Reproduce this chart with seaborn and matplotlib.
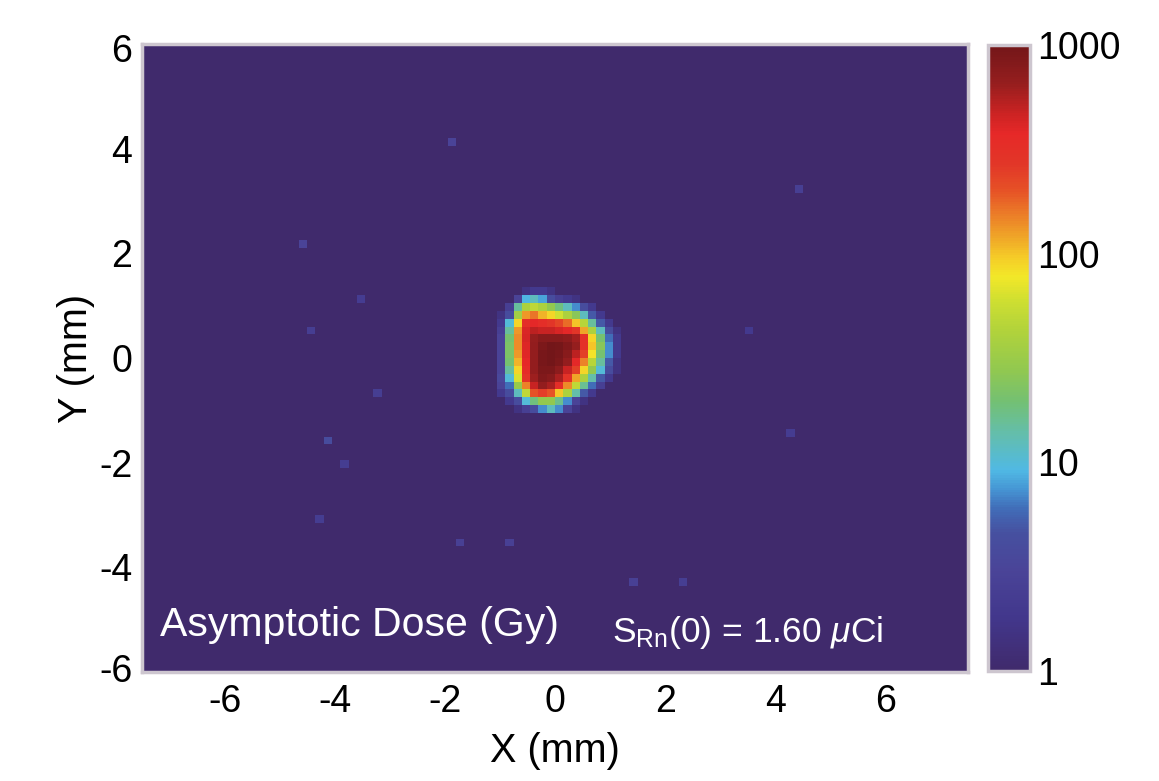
import numpy as np
import pandas as pd
import matplotlib.pyplot as plt
import seaborn as sns
from matplotlib.colors import LinearSegmentedColormap, LogNorm

# dose map grid (pixel centres, mm); the map is 15 mm x 12 mm at 0.15 mm pixels
x_mm = np.round(np.arange(-7.425, 7.5, 0.15), 3)
y_mm = np.round(np.arange(5.925, -6.0, -0.15), 3)

# hot spot around the seed (Gy)
hot_x = [-0.975, -0.825, -0.675, -0.525, -0.375, -0.225, -0.075, 0.075,
         0.225, 0.375, 0.525, 0.675, 0.825, 0.975, 1.125]
hot_y = [1.275, 1.125, 0.975, 0.825, 0.675, 0.525, 0.375, 0.225,
         0.075, -0.075, -0.225, -0.375, -0.525, -0.675, -0.825, -0.975]
hot_dose = [
    [1, 1, 1, 1.5, 2, 2, 1.5, 1, 1, 1, 1, 1, 1, 1, 1],
    [1, 1, 3, 9, 12, 8, 4, 2.5, 2, 1.5, 1, 1, 1, 1, 1],
    [1, 2.5, 15, 40, 50, 40, 28, 18, 12, 7, 4, 2, 1, 1, 1],
    [1.5, 4, 35, 130, 160, 110, 90, 60, 40, 25, 12, 5, 2, 1, 1],
    [2, 10, 90, 330, 380, 330, 280, 230, 170, 100, 45, 15, 5, 2, 1],
    [2.5, 15, 130, 420, 520, 480, 470, 430, 380, 280, 120, 40, 12, 4, 1.5],
    [3, 20, 140, 430, 650, 780, 780, 780, 720, 600, 320, 90, 20, 6, 2],
    [3, 22, 140, 400, 680, 880, 1000, 950, 830, 650, 320, 100, 25, 7, 2],
    [3, 22, 130, 390, 680, 930, 1000, 930, 780, 520, 240, 80, 20, 7, 2],
    [3, 20, 110, 370, 680, 930, 980, 880, 680, 380, 150, 45, 15, 5, 1.5],
    [3, 15, 90, 340, 680, 880, 880, 730, 480, 240, 90, 28, 10, 4, 1.5],
    [3.5, 10, 65, 290, 630, 830, 780, 580, 290, 120, 40, 14, 5, 2, 1],
    [3, 6, 30, 150, 480, 680, 580, 330, 140, 50, 16, 6, 2.5, 1, 1],
    [2, 4, 12, 50, 200, 250, 200, 100, 40, 14, 5, 2, 1, 1, 1],
    [1, 2, 4, 10, 18, 28, 28, 17, 7, 3, 1.5, 1, 1, 1, 1],
    [1, 1, 1.5, 2.5, 4, 7, 12, 7, 3, 1.5, 1, 1, 1, 1, 1],
]

# faint speckles in the background
speck_x = [-1.88, -4.5, 4.41, -4.08, -1.72, -0.81, 1.41, 2.27, -4.39, -3.5, -3.3, -4.3, -3.77, 4.24, 3.5]
speck_y = [4.17, 2.2, 3.29, -1.57, -3.59, -3.59, -4.28, -4.32, 0.5, 1.1, -0.73, -3.1, -2.06, -1.5, 0.48]
speck_dose = [3, 3, 2.5, 4, 2.6, 2.6, 2.6, 2.4, 2.4, 2.2, 2.4, 2.3, 2.3, 2.2, 2]

x_ticks = [-6, -4, -2, 0, 2, 4, 6]
y_ticks = [-6, -4, -2, 0, 2, 4, 6]
cbar_ticks = [1, 10, 100, 1000]

dose = pd.DataFrame(1.0, index=y_mm, columns=x_mm)
for r, hy in enumerate(hot_y):
    for c, hx in enumerate(hot_x):
        dose.iloc[np.abs(y_mm - hy).argmin(), np.abs(x_mm - hx).argmin()] = hot_dose[r][c]
for sx, sy, sd in zip(speck_x, speck_y, speck_dose):
    dose.iloc[np.abs(y_mm - sy).argmin(), np.abs(x_mm - sx).argmin()] = sd

stops = [
    (0.0, (64, 42, 108)), (0.085, (66, 55, 140)), (0.16, (74, 68, 152)),
    (0.22, (70, 80, 160)), (0.26, (65, 110, 185)), (0.29, (70, 150, 212)),
    (0.32, (80, 185, 228)), (0.38, (100, 190, 170)), (0.43, (115, 192, 115)),
    (0.48, (145, 200, 80)), (0.54, (175, 210, 60)), (0.59, (205, 222, 50)),
    (0.63, (242, 232, 40)), (0.66, (245, 205, 40)), (0.69, (240, 170, 40)),
    (0.73, (235, 125, 40)), (0.77, (230, 80, 38)), (0.81, (226, 55, 40)),
    (0.86, (230, 40, 40)), (0.89, (205, 35, 35)), (0.94, (150, 30, 30)),
    (1.0, (115, 22, 25)),
]
dose_cmap = LinearSegmentedColormap.from_list(
    "dose", [(p, tuple(v / 255 for v in rgb)) for p, rgb in stops])

sns.set_theme(style="white")
plt.rcParams["font.family"] = ["Liberation Sans", "DejaVu Sans"]
plt.rcParams["mathtext.fontset"] = "custom"
plt.rcParams["mathtext.rm"] = "Liberation Sans"
plt.rcParams["mathtext.it"] = "Liberation Sans:italic"
plt.rcParams["text.color"] = "black"
plt.rcParams["axes.labelcolor"] = "black"

W, H = 1159, 781
fig = plt.figure(figsize=(W / 100, H / 100), dpi=100)
ax = fig.add_axes([142 / W, 109 / H, 826 / W, 628 / H])
cax = fig.add_axes([988 / W, 110 / H, 42 / W, 626 / H])

sns.heatmap(dose, ax=ax, cbar_ax=cax, cmap=dose_cmap, norm=LogNorm(vmin=1, vmax=1000),
            xticklabels=False, yticklabels=False, rasterized=True)

col_pos = np.arange(len(x_mm)) + 0.5
row_pos = np.arange(len(y_mm)) + 0.5
ax.set_xticks(np.interp(x_ticks, x_mm, col_pos))
ax.set_xticklabels([str(t) for t in x_ticks])
ax.set_yticks(np.interp(y_ticks, y_mm[::-1], row_pos[::-1]))
ax.set_yticklabels([str(t) for t in y_ticks], rotation=0)
ax.tick_params(axis="both", length=0, labelsize=27, colors="black")
ax.tick_params(axis="x", pad=9)
ax.tick_params(axis="y", pad=7)
ax.set_xlabel("X (mm)", fontsize=28.5, labelpad=8, color="black")
ax.set_ylabel("Y (mm)", fontsize=28.5, labelpad=3, color="black")
for sp in ax.spines.values():
    sp.set_visible(True)
    sp.set_color("#cdc6cf")
    sp.set_linewidth(2.5)

ax.text(0.022, 0.057, "Asymptotic Dose (Gy)", transform=ax.transAxes,
        color="white", fontsize=29.5, va="baseline", ha="left")
ax.text(0.569, 0.047, r"$\mathrm{S}_{\mathrm{Rn}}$(0) = 1.60 $\mu$Ci",
        transform=ax.transAxes, color="white", fontsize=25.5, va="baseline", ha="left")

cb = ax.collections[0].colorbar
cb.set_ticks(cbar_ticks)
cb.set_ticklabels([str(t) for t in cbar_ticks])
cb.ax.minorticks_off()
cb.ax.tick_params(length=0, labelsize=27, pad=5, colors="black")
cb.outline.set_visible(True)
cb.outline.set_linewidth(2.5)
cb.outline.set_edgecolor("#cdc6cf")

fig.savefig("out.png", dpi=100)
